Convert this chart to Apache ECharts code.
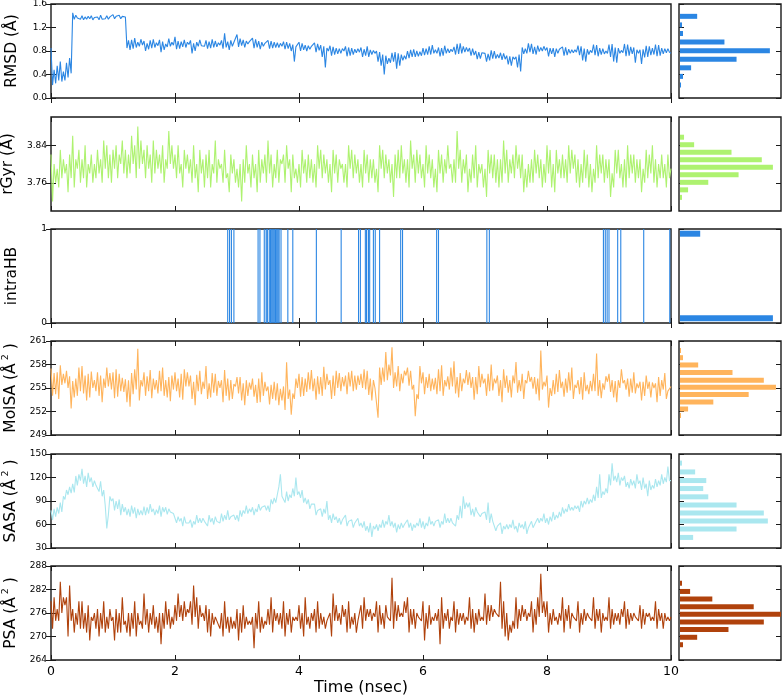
<!DOCTYPE html>
<html>
<head>
<meta charset="utf-8">
<script src="https://cdn.jsdelivr.net/npm/echarts@6/dist/echarts.min.js"></script>
<style>
html,body{margin:0;padding:0;background:#fff;}
#chart{width:783px;height:697px;}
</style>
</head>
<body>
<div id="chart"></div>
<script>
// ---------------- DATA ----------------
// sampling step of the trajectory traces (ns); samples at 0, 0.025, ..., 10
const sampleStep = 0.025;
const timeTicks = [0, 2, 4, 6, 8, 10];

const rmsd = [
0.85,0.22,0.48,0.25,0.55,0.30,0.62,0.28,0.45,0.30,
0.60,0.35,0.68,0.42,1.45,1.34,1.41,1.36,1.39,1.34,
1.40,1.33,1.38,1.34,1.39,1.35,1.40,1.33,1.37,1.35,
1.38,1.33,1.41,1.34,1.37,1.35,1.40,1.34,1.38,1.36,
1.42,1.35,1.39,1.36,1.41,1.35,1.39,1.36,1.38,0.85,
0.98,0.82,0.99,0.84,1.02,0.86,0.95,0.88,1.00,0.90,
0.97,0.80,0.93,0.83,0.98,0.85,1.00,0.86,0.94,0.89,
0.99,0.78,0.96,0.82,0.92,0.87,1.01,0.88,0.95,0.90,
1.04,0.83,0.97,0.84,0.96,0.87,0.99,0.86,0.95,0.91,
0.98,0.76,0.93,0.80,0.95,0.88,0.99,0.89,0.91,0.88,
0.98,0.84,0.96,0.85,1.00,0.86,0.97,0.87,0.94,0.90,
0.98,0.84,1.10,0.86,0.96,0.82,0.98,0.88,0.95,0.92,
1.08,0.87,1.01,0.89,0.99,0.86,0.97,0.92,0.96,0.94,
1.02,0.85,1.00,0.86,0.97,0.83,0.95,0.88,0.93,0.90,
0.98,0.84,0.97,0.85,0.95,0.86,0.94,0.86,0.93,0.88,
0.96,0.83,0.95,0.84,0.93,0.80,0.91,0.62,0.87,0.86,
0.95,0.80,0.93,0.82,0.90,0.80,0.89,0.83,0.88,0.86,
0.94,0.78,0.92,0.81,0.90,0.70,0.88,0.52,0.85,0.80,
0.89,0.72,0.87,0.74,0.85,0.75,0.84,0.76,0.84,0.80,
0.88,0.71,0.86,0.72,0.85,0.74,0.83,0.77,0.84,0.78,
0.86,0.70,0.83,0.72,0.88,0.70,0.82,0.74,0.81,0.76,
0.80,0.62,0.78,0.55,0.74,0.40,0.72,0.58,0.68,0.60,
0.77,0.62,0.78,0.50,0.76,0.55,0.74,0.64,0.72,0.66,
0.80,0.68,0.82,0.70,0.83,0.70,0.80,0.71,0.79,0.72,
0.85,0.73,0.84,0.74,0.88,0.74,0.90,0.76,0.82,0.76,
0.86,0.71,0.85,0.72,0.89,0.76,0.84,0.77,0.83,0.79,
0.87,0.74,0.92,0.75,0.93,0.76,0.88,0.78,0.86,0.79,
0.85,0.72,0.84,0.73,0.80,0.66,0.78,0.67,0.77,0.76,
0.76,0.62,0.75,0.64,0.81,0.67,0.80,0.67,0.74,0.68,
0.77,0.65,0.76,0.66,0.72,0.57,0.71,0.55,0.70,0.66,
0.70,0.52,0.74,0.45,0.86,0.75,0.84,0.76,0.93,0.78,
0.92,0.75,0.87,0.74,0.89,0.79,0.86,0.80,0.88,0.81,
0.86,0.71,0.85,0.75,0.85,0.70,0.84,0.76,0.83,0.80,
0.87,0.72,0.86,0.73,0.83,0.76,0.82,0.77,0.82,0.78,
0.89,0.73,0.88,0.64,0.84,0.62,0.83,0.74,0.81,0.77,
0.91,0.73,0.90,0.71,0.85,0.74,0.84,0.75,0.80,0.76,
0.91,0.70,0.92,0.62,0.86,0.60,0.85,0.76,0.81,0.77,
0.92,0.71,0.91,0.72,0.87,0.75,0.86,0.60,0.82,0.76,
0.82,0.58,0.83,0.69,0.89,0.70,0.88,0.73,0.85,0.74,
0.91,0.71,0.90,0.72,0.85,0.75,0.84,0.77,0.84,0.78,
0.76];

const rgyr = [
3.82,3.72,3.80,3.76,3.79,3.75,3.83,3.77,3.81,3.78,
3.80,3.74,3.82,3.77,3.86,3.75,3.81,3.79,3.83,3.76,
3.81,3.77,3.84,3.75,3.80,3.78,3.82,3.76,3.80,3.77,
3.83,3.78,3.81,3.76,3.85,3.79,3.84,3.77,3.82,3.76,
3.83,3.79,3.84,3.77,3.82,3.80,3.85,3.78,3.83,3.77,
3.82,3.78,3.86,3.80,3.84,3.77,3.88,3.79,3.85,3.80,
3.83,3.77,3.84,3.79,3.82,3.76,3.85,3.78,3.83,3.79,
3.82,3.78,3.84,3.76,3.81,3.79,3.87,3.80,3.84,3.79,
3.82,3.77,3.84,3.78,3.80,3.75,3.83,3.79,3.82,3.78,
3.81,3.76,3.84,3.77,3.80,3.74,3.83,3.78,3.81,3.75,
3.82,3.77,3.83,3.75,3.80,3.78,3.85,3.76,3.81,3.79,
3.80,3.76,3.83,3.77,3.78,3.74,3.82,3.78,3.81,3.76,
3.79,3.75,3.80,3.72,3.81,3.76,3.84,3.78,3.80,3.75,
3.82,3.77,3.80,3.74,3.83,3.76,3.81,3.78,3.82,3.76,
3.85,3.78,3.82,3.75,3.80,3.77,3.83,3.76,3.81,3.80,
3.82,3.76,3.84,3.79,3.81,3.74,3.82,3.77,3.79,3.76,
3.80,3.75,3.83,3.78,3.81,3.76,3.82,3.77,3.81,3.76,
3.80,3.75,3.84,3.79,3.83,3.77,3.82,3.78,3.81,3.76,
3.80,3.74,3.83,3.78,3.82,3.76,3.81,3.79,3.80,3.76,
3.80,3.75,3.84,3.79,3.83,3.77,3.82,3.78,3.81,3.76,
3.80,3.75,3.83,3.78,3.82,3.76,3.81,3.77,3.81,3.76,
3.79,3.74,3.84,3.79,3.83,3.77,3.82,3.78,3.81,3.76,
3.80,3.73,3.82,3.77,3.83,3.77,3.84,3.78,3.81,3.76,
3.81,3.75,3.85,3.79,3.82,3.76,3.83,3.78,3.82,3.77,
3.80,3.75,3.84,3.78,3.82,3.77,3.81,3.75,3.79,3.74,
3.83,3.78,3.82,3.76,3.81,3.78,3.84,3.79,3.80,3.76,
3.81,3.76,3.87,3.79,3.83,3.76,3.81,3.78,3.82,3.74,
3.79,3.76,3.82,3.77,3.84,3.75,3.80,3.78,3.80,3.75,
3.79,3.73,3.83,3.78,3.82,3.77,3.82,3.76,3.81,3.75,
3.81,3.76,3.85,3.78,3.83,3.76,3.81,3.78,3.82,3.77,
3.84,3.79,3.82,3.77,3.82,3.74,3.79,3.75,3.80,3.76,
3.81,3.76,3.83,3.78,3.82,3.77,3.81,3.75,3.80,3.76,
3.84,3.78,3.83,3.75,3.80,3.74,3.83,3.78,3.81,3.77,
3.82,3.77,3.81,3.76,3.84,3.78,3.83,3.79,3.82,3.76,
3.81,3.75,3.80,3.76,3.83,3.77,3.82,3.75,3.80,3.74,
3.79,3.76,3.84,3.77,3.82,3.78,3.82,3.76,3.81,3.77,
3.81,3.73,3.78,3.75,3.83,3.78,3.83,3.77,3.80,3.75,
3.81,3.75,3.84,3.77,3.82,3.78,3.82,3.76,3.81,3.77,
3.81,3.74,3.79,3.76,3.83,3.77,3.82,3.78,3.84,3.76,
3.81,3.75,3.80,3.77,3.82,3.77,3.80,3.75,3.82,3.77,
3.79];

const molsa = [
257.5,254.0,256.9,254.2,257.0,253.6,257.9,255.4,256.8,255.6,
257.2,255.0,256.5,252.4,255.9,253.8,256.2,254.0,257.6,254.6,
257.8,254.3,256.6,253.4,256.8,253.8,257.1,255.0,256.0,254.6,
257.0,254.0,256.6,253.2,256.2,255.0,257.6,255.2,256.9,254.8,
257.0,253.7,257.4,253.9,256.8,254.6,256.3,254.5,256.1,253.2,
256.0,252.6,256.9,254.2,257.4,254.8,260.0,253.4,256.0,255.2,
257.0,254.0,256.5,254.6,257.3,253.7,256.2,254.8,256.0,254.3,
257.2,254.6,257.6,254.0,256.0,253.8,256.4,253.3,256.6,254.8,
257.0,254.6,256.2,253.8,256.8,253.5,257.4,255.2,257.0,255.2,
256.6,253.6,255.8,252.8,256.7,254.6,257.2,254.2,255.8,254.9,
257.8,253.6,255.6,253.8,256.9,254.4,256.8,254.0,255.9,255.0,
256.0,253.2,257.3,254.0,256.2,253.4,256.0,253.6,255.5,255.2,
256.4,254.3,256.4,253.4,255.6,252.8,256.0,254.0,255.7,254.8,
256.2,253.9,255.4,253.1,256.2,253.2,257.0,254.0,255.8,254.6,
255.2,252.9,255.4,253.6,255.8,253.4,255.6,252.8,254.9,253.4,
255.2,252.2,258.3,253.6,254.8,251.6,254.3,253.6,256.2,255.0,
256.8,253.9,256.4,254.0,256.2,254.5,257.0,254.8,257.3,254.6,
256.2,253.5,256.5,254.2,256.4,254.0,257.7,254.8,256.8,255.4,
256.0,253.6,256.6,254.0,257.2,255.0,256.9,254.6,256.4,255.2,
256.6,254.2,257.0,255.2,257.2,254.6,256.6,254.8,256.6,255.4,
256.8,255.0,257.4,254.8,257.2,254.1,256.2,253.4,256.0,255.0,
255.2,251.2,257.6,255.4,257.6,255.8,259.6,256.0,258.0,256.6,
260.2,255.0,257.0,255.2,257.8,254.6,256.8,255.6,257.2,256.6,
257.6,255.3,257.2,254.8,255.4,251.4,254.2,253.6,257.8,255.6,
257.0,254.2,256.4,255.0,256.8,254.6,256.2,254.8,256.3,254.2,
257.4,254.6,257.9,254.0,256.0,255.2,256.5,254.8,257.6,255.2,
258.4,254.3,256.4,253.8,256.9,254.6,256.2,255.6,257.3,255.4,
257.0,255.0,256.4,253.5,256.4,254.2,257.8,255.1,256.8,255.6,
256.2,254.0,256.8,254.6,258.0,254.7,256.2,255.6,256.6,254.0,
256.0,253.2,257.4,255.0,256.6,254.4,256.0,253.8,256.6,255.6,
258.3,254.4,256.0,254.6,256.8,253.6,256.0,255.6,257.2,255.8,
256.4,254.9,256.4,254.2,256.2,253.4,259.8,254.8,255.8,255.2,
256.6,252.5,255.0,254.0,256.0,254.2,256.8,254.5,257.3,255.0,
255.8,253.9,256.2,254.4,257.0,254.7,257.6,253.6,255.4,255.0,
256.0,254.2,256.4,253.5,257.0,254.6,255.4,254.2,255.9,254.6,
256.8,254.6,259.4,254.0,256.0,253.7,255.6,254.8,256.5,255.8,
256.8,254.5,256.0,253.8,255.9,253.2,256.0,255.0,257.4,255.6,
256.0,254.8,256.2,253.9,256.2,254.4,257.0,254.3,255.6,255.0,
255.8,253.4,255.8,254.0,256.6,254.9,255.8,253.8,255.7,255.0,
255.6,253.2,256.4,254.0,256.0,254.8,256.9,253.6,254.6,254.6,
255.2];

const sasa = [
78,66,80,70,82,74,88,76,96,92,
104,98,108,100,112,101,122,110,124,116,
131,112,122,108,126,114,120,108,116,110,
112,102,115,96,104,84,55,72,96,90,
93,78,90,80,92,72,86,76,82,72,
80,70,84,74,82,68,80,72,78,72,
83,72,82,74,86,76,80,72,79,74,
84,70,82,76,82,73,80,76,78,74,
75,62,70,64,68,58,70,62,64,62,
66,56,64,60,72,62,68,62,68,64,
66,58,72,63,68,60,70,64,66,62,
74,64,72,66,78,66,70,68,72,66,
72,64,78,70,78,74,84,74,80,76,
82,72,80,76,86,78,82,80,84,78,
84,76,92,86,94,88,98,108,124,96,
96,88,102,90,98,94,106,96,120,98,
102,94,104,88,94,86,92,80,86,84,
86,72,78,76,80,70,80,74,90,66,
72,62,74,66,70,62,68,60,66,64,
72,58,64,62,66,56,62,60,68,58,
62,56,64,52,58,50,62,44,58,54,
60,52,60,56,66,56,64,60,72,58,
64,56,62,50,60,54,62,56,60,58,
66,56,62,52,60,56,62,58,68,56,
64,54,62,58,70,60,64,58,64,62,
66,56,64,60,74,62,68,62,68,62,
64,58,72,66,84,68,96,80,88,82,
88,72,80,70,82,76,78,70,74,72,
76,66,88,62,74,64,66,52,58,56,
62,48,58,54,60,54,60,56,66,54,
58,50,62,56,60,54,64,48,56,54,
64,56,60,58,68,62,68,64,74,62,
68,60,70,64,76,66,72,68,76,70,
82,74,80,76,86,78,82,78,84,80,
84,76,90,82,90,86,94,86,92,88,
98,90,108,94,124,94,102,98,106,100,
124,110,138,116,122,114,126,110,120,116,
122,108,114,106,118,110,116,106,124,112,
116,104,120,106,112,96,116,104,110,106,
118,108,116,110,124,112,120,114,134,116,
116];

const psa = [
279,272,280,274,277,274,284,276,280,278,
280,270,283,274,277,271,276,273,279,272,
279,272,276,271,278,269,275,274,276,272,
277,270,276,272,279,271,275,272,277,274,
275,269,277,271,276,271,280,273,274,271,
276,270,276,272,279,270,276,273,274,272,
281,273,277,271,276,273,278,272,275,271,
276,268,276,272,279,273,277,272,275,273,
278,274,281,275,278,274,279,275,277,276,
279,273,283,275,280,272,278,275,276,274,
278,271,277,270,276,273,275,274,274,272,
276,270,279,272,275,271,275,272,274,272,
277,269,276,271,278,272,275,273,274,273,
275,267,276,272,279,271,275,272,274,273,
277,273,280,271,277,274,276,273,276,272,
279,270,276,273,277,271,275,274,275,274,
278,272,276,270,280,273,275,272,276,274,
277,271,279,272,276,273,275,272,274,274,
276,270,281,274,278,274,276,273,278,275,
277,271,279,272,275,273,276,271,274,274,
278,272,280,274,277,275,277,274,276,275,
279,271,278,273,276,272,278,275,275,274,
285,272,279,274,278,275,276,275,279,276,
280,271,277,273,277,272,276,275,275,274,
279,269,276,272,278,273,275,274,276,274,
277,268,280,272,276,274,277,272,275,274,
279,271,277,273,276,274,276,273,275,274,
280,272,277,271,276,273,277,274,275,274,
281,273,278,274,278,275,277,276,276,275,
284,272,279,270,276,269,273,271,274,272,
280,272,277,274,278,275,277,274,276,275,
279,271,277,273,280,275,286,276,279,275,
279,271,276,273,277,274,275,273,276,274,
280,271,277,274,278,272,276,275,275,274,
279,271,276,273,277,274,276,275,275,274,
280,272,277,274,277,271,276,274,275,274,
280,272,277,273,276,274,276,273,277,275,
279,272,277,273,276,274,276,275,275,274,
278,272,277,273,276,275,276,274,275,274,
279,272,277,274,276,272,276,274,275,274,
275];

// times (ns) at which the intramolecular H-bond is present
const hbOnTimes = [2.85,2.88,2.91,2.95,3.34,3.37,3.44,3.47,3.49,3.52,3.54,3.56,3.58,3.60,3.62,3.64,3.66,3.68,3.71,3.82,3.90,4.28,4.68,4.96,4.99,5.07,5.09,5.12,5.14,5.20,5.23,5.30,5.64,5.67,6.22,6.25,7.03,7.07,8.91,8.94,8.97,9.00,9.14,9.19,9.56,9.98];

// histograms: bin centers and counts
const rmsdHistCenters = [1.39,1.244,1.098,0.952,0.806,0.66,0.514,0.368,0.222];
const rmsdHistCounts  = [17,2,3,44,89,56,11,3,1];
const rgyrHistCenters = [3.857,3.841,3.825,3.809,3.793,3.777,3.761,3.745,3.729];
const rgyrHistCounts  = [4,14,51,81,92,58,28,8,2];
const hbHistCenters   = [0.95,0.05];
const hbHistCounts    = [20,92];
const molsaHistCenters = [259.8,258.87,257.94,256.98,256.0,255.1,254.16,253.22,252.32,251.48];
const molsaHistCounts  = [1,3,18,52,83,95,68,33,8,1];
const sasaHistCenters = [138.4,127.1,116.1,105.9,95.3,85.0,74.7,64.5,54.2,43.5];
const sasaHistCounts  = [2,15,26,23,28,56,83,87,56,13];
const psaHistCenters  = [283.6,281.5,279.6,277.6,275.7,273.7,271.8,269.8,267.9];
const psaHistCounts   = [2,10,32,73,100,83,48,17,3];

// y tick values
const rmsdTicks  = [0, 0.4, 0.8, 1.2, 1.6];
const rgyrTicks  = [3.76, 3.84];
const hbTicks    = [0, 1];
const molsaTicks = [249, 252, 255, 258, 261];
const sasaTicks  = [30, 60, 90, 120, 150];
const psaTicks   = [264, 270, 276, 282, 288];

// ---------------- BUILD ----------------
function traceData(vals){ return vals.map((v,j)=>[+(j*sampleStep).toFixed(3), v]); }
function hbData(times){
  const d = [];
  times.forEach(t=>{ d.push([t,0]); d.push([t,1]); d.push([t,'-']); });
  return d;
}
function histData(centers, counts){ return centers.map((c,j)=>[counts[j], c]); }

const panels = [
  {name:'RMSD (Å)', color:'#2b86e3', min:0, max:1.6, ticks:rmsdTicks, fmt:v=>v.toFixed(1), data:traceData(rmsd), hist:histData(rmsdHistCenters,rmsdHistCounts)},
  {name:'rGyr (Å)', color:'#aef270', min:3.70, max:3.90, ticks:rgyrTicks, fmt:v=>v.toFixed(2), data:traceData(rgyr), hist:histData(rgyrHistCenters,rgyrHistCounts)},
  {name:'intraHB', color:'#2b86e3', min:0, max:1, ticks:hbTicks, fmt:v=>String(v), data:hbData(hbOnTimes), hist:histData(hbHistCenters,hbHistCounts), thick:6},
  {name:'MolSA (Å{s|2} )', color:'#ffb45c', min:249, max:261, ticks:molsaTicks, fmt:v=>String(v), data:traceData(molsa), hist:histData(molsaHistCenters,molsaHistCounts)},
  {name:'SASA (Å{s|2} )', color:'#aae7ef', min:30, max:150, ticks:sasaTicks, fmt:v=>String(v), data:traceData(sasa), hist:histData(sasaHistCenters,sasaHistCounts)},
  {name:'PSA (Å{s|2} )', color:'#b0420c', min:264, max:288, ticks:psaTicks, fmt:v=>String(v), data:traceData(psa), hist:histData(psaHistCenters,psaHistCounts)}
];

const tops = [4, 117, 229, 341, 454, 566];
const H = 94;
const FONT = 'DejaVu Sans';
const frame = '#1a1a1a';

const grid = [], xAxis = [], yAxis = [], series = [];
panels.forEach((p, i) => {
  const gm = grid.length;
  grid.push({left:51, top:tops[i], width:620, height:H, show:true, borderColor:frame, borderWidth:1.4,
    backgroundColor:'rgba(0,0,0,0)', containLabel:false, outerBoundsMode:'none'});
  const gh = grid.length;
  grid.push({left:679, top:tops[i], width:102, height:H, show:true, borderColor:frame, borderWidth:1.4,
    backgroundColor:'rgba(0,0,0,0)', containLabel:false, outerBoundsMode:'none'});
  const last = i === panels.length - 1;
  const tickStyle = {show:true, inside:true, length:5, lineStyle:{color:frame, width:1}};
  const xb = xAxis.length;
  xAxis.push({type:'value', gridIndex:gm, min:0, max:10, position:'bottom',
    axisLine:{show:false}, splitLine:{show:false},
    axisTick:Object.assign({customValues:timeTicks}, tickStyle),
    axisLabel:{show:last, customValues:timeTicks, fontFamily:FONT, fontSize:12.5, color:'#000', margin:5},
    name: last ? 'Time (nsec)' : '', nameLocation:'middle', nameGap:20,
    nameTextStyle:{fontFamily:FONT, fontSize:16, color:'#000'}});
  xAxis.push({type:'value', gridIndex:gm, min:0, max:10, position:'top',
    axisLine:{show:false}, splitLine:{show:false},
    axisTick:Object.assign({customValues:timeTicks}, tickStyle), axisLabel:{show:false}});
  const xh = xAxis.length;
  xAxis.push({type:'value', gridIndex:gh, min:0, max:101, show:false});
  const yl = yAxis.length;
  yAxis.push({type:'value', gridIndex:gm, min:p.min, max:p.max, position:'left',
    axisLine:{show:false}, splitLine:{show:false},
    axisTick:Object.assign({customValues:p.ticks}, tickStyle),
    axisLabel:{customValues:p.ticks, formatter:p.fmt, fontFamily:FONT, fontSize:9, color:'#000', margin:4},
    name:p.name, nameLocation:'middle', nameGap:31,
    nameTextStyle:{fontFamily:FONT, fontSize:15.5, color:'#000',
      rich:{s:{fontFamily:FONT, fontSize:9.5, color:'#000', verticalAlign:'top', padding:[0,0,9,3]}}}});
  yAxis.push({type:'value', gridIndex:gm, min:p.min, max:p.max, position:'right',
    axisLine:{show:false}, splitLine:{show:false},
    axisTick:Object.assign({customValues:p.ticks}, tickStyle), axisLabel:{show:false}});
  const yhl = yAxis.length;
  yAxis.push({type:'value', gridIndex:gh, min:p.min, max:p.max, position:'left',
    axisLine:{show:false}, splitLine:{show:false},
    axisTick:Object.assign({customValues:p.ticks}, tickStyle), axisLabel:{show:false}});
  yAxis.push({type:'value', gridIndex:gh, min:p.min, max:p.max, position:'right',
    axisLine:{show:false}, splitLine:{show:false},
    axisTick:Object.assign({customValues:p.ticks}, tickStyle), axisLabel:{show:false}});

  series.push({type:'line', xAxisIndex:xb, yAxisIndex:yl, data:p.data, showSymbol:false,
    symbol:'none', connectNulls:false, lineStyle:{color:p.color, width:1.1}, silent:true, z:1});
  const thick = p.thick || 5;
  const col = p.color;
  series.push({type:'custom', xAxisIndex:xh, yAxisIndex:yhl, data:p.hist, encode:{x:0, y:1}, silent:true, z:1,
    renderItem:function(params, api){
      const c = api.value(0), y = api.value(1);
      const a = api.coord([0, y]), b = api.coord([c, y]);
      return {type:'rect', shape:{x:a[0]+1, y:a[1]-thick/2, width:b[0]-a[0], height:thick}, style:{fill:col}};
    }});
});

const chart = echarts.init(document.getElementById('chart'), null, {renderer:'canvas'});
chart.setOption({animation:false, backgroundColor:'#fff', grid, xAxis, yAxis, series});
</script>
</body>
</html>
